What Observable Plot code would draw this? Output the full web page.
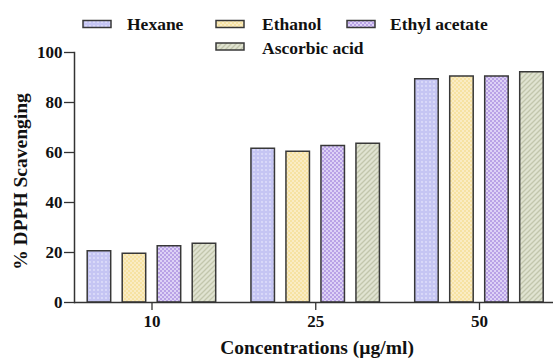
<!DOCTYPE html>
<html><head><meta charset="utf-8">
<script src="https://cdn.jsdelivr.net/npm/d3@7"></script>
<script src="https://cdn.jsdelivr.net/npm/@observablehq/plot@0.6"></script>
<style>
body{margin:0;background:#fff;}
#wrap{position:relative;width:553px;height:360px;}
#legend{position:absolute;left:0;top:0;}
</style></head><body>
<svg width="0" height="0" style="position:absolute">
<defs>
<pattern id="p0" width="4" height="4" patternUnits="userSpaceOnUse"><rect width="4" height="4" fill="#c5c5f3"/><circle cx="2" cy="2" r="0.9" fill="#e2e2fb"/></pattern>
<pattern id="p1" width="4" height="4" patternUnits="userSpaceOnUse"><rect width="4" height="4" fill="#f6e2a2"/><rect x="0" y="0" width="2" height="2" fill="#faecc4"/><rect x="2" y="2" width="2" height="2" fill="#faecc4"/></pattern>
<pattern id="p2" width="4" height="4" patternUnits="userSpaceOnUse"><rect width="4" height="4" fill="#b9a2e6"/><rect x="0" y="0" width="2" height="2" fill="#ddd2f6"/><rect x="2" y="2" width="2" height="2" fill="#ddd2f6"/></pattern>
<pattern id="p3" width="5" height="5" patternUnits="userSpaceOnUse"><rect width="5" height="5" fill="#e0e3d1"/><path d="M-1,1 l2,-2 M0,5 l5,-5 M4,6 l2,-2" stroke="#c2c6ac" stroke-width="1.3"/></pattern>
</defs></svg>
<div id="wrap"></div>
<script>
const concentrations = ["10", "25", "50"];
const seriesNames = ["Hexane", "Ethanol", "Ethyl acetate", "Ascorbic acid"];
const hexane = [20.5, 61.5, 89.3];
const ethanol = [19.5, 60.3, 90.4];
const ethylAcetate = [22.5, 62.6, 90.4];
const ascorbicAcid = [23.5, 63.5, 92.1];
const yTicks = [0, 20, 40, 60, 80, 100];
const xLabel = "Concentrations (µg/ml)";
const yLabel = "% DPPH Scavenging";

const seriesValues = [hexane, ethanol, ethylAcetate, ascorbicAcid];
const fills = ["url(#p0)", "url(#p1)", "url(#p2)", "url(#p3)"];
const rows = seriesNames.flatMap((s, i) => concentrations.map((c, j) => ({series: s, conc: c, value: seriesValues[i][j]})));

const xRange = [86, 544.5], padInner = 0.2;
const bw = (xRange[1] - xRange[0]) / (concentrations.length - padInner) * (1 - padInner);
const barW = 23.5, barStep = 35, barOff = 1.2;
const font = "'Liberation Serif','Times New Roman',serif";

const barMarks = seriesNames.map((s, i) => {
  const il = barOff + i * barStep;
  return Plot.barY(rows.filter(d => d.series === s), {
    x: "conc", y: "value", fill: fills[i], stroke: "#383838", strokeWidth: 1.5,
    insetLeft: il, insetRight: bw - il - barW
  });
});

const plot = Plot.plot({
  width: 553, height: 360,
  marginLeft: 74, marginRight: 0, marginTop: 52, marginBottom: 58,
  style: {fontFamily: font, fontWeight: "bold", fontSize: "17px", color: "#111", background: "#fff"},
  x: {domain: concentrations, range: xRange, paddingInner: padInner, paddingOuter: 0, round: false},
  y: {domain: [0, 100]},
  marks: [
    ...barMarks,
    Plot.axisY({ticks: yTicks, tickSize: 10, tickPadding: 2, label: null, stroke: "#333", strokeWidth: 1.3, fontFamily: font}),
    Plot.axisX({tickSize: 8, tickPadding: 4, label: null, stroke: "#333", strokeWidth: 1.3, fontFamily: font}),
    Plot.ruleY([0], {stroke: "#333", strokeWidth: 1.5}),
    Plot.frame({anchor: "left", stroke: "#333", strokeWidth: 1.5}),
    Plot.text([yLabel], {frameAnchor: "left", textAnchor: "middle", rotate: -90, dx: -54, dy: 4, fontSize: 19.5, fontWeight: "bold", fontFamily: font, fill: "#111"}),
    Plot.text([xLabel], {frameAnchor: "bottom", dy: 51, dx: 3, fontSize: 19.5, fontWeight: "bold", fontFamily: font, fill: "#111"})
  ]
});
const wrap = document.getElementById("wrap");
wrap.appendChild(plot);

// legend
const legendPos = [
  {sx: 83, sy: 20.5, tx: 127, ty: 30},
  {sx: 216, sy: 20.5, tx: 262, ty: 30},
  {sx: 347, sy: 20.5, tx: 390, ty: 30},
  {sx: 216, sy: 43, tx: 262, ty: 54}
];
const ns = "http://www.w3.org/2000/svg";
const leg = document.createElementNS(ns, "svg");
leg.setAttribute("id", "legend");
leg.setAttribute("width", 553);
leg.setAttribute("height", 60);
seriesNames.forEach((s, i) => {
  const p = legendPos[i];
  const r = document.createElementNS(ns, "rect");
  r.setAttribute("x", p.sx); r.setAttribute("y", p.sy);
  r.setAttribute("width", 28); r.setAttribute("height", 7);
  r.setAttribute("fill", fills[i]); r.setAttribute("stroke", "#383838"); r.setAttribute("stroke-width", 1.5);
  leg.appendChild(r);
  const t = document.createElementNS(ns, "text");
  t.setAttribute("x", p.tx); t.setAttribute("y", p.ty);
  t.setAttribute("style", "font-family:" + font + ";font-weight:bold;font-size:17.5px;fill:#111");
  t.textContent = s;
  leg.appendChild(t);
});
wrap.appendChild(leg);
</script>
</body></html>
